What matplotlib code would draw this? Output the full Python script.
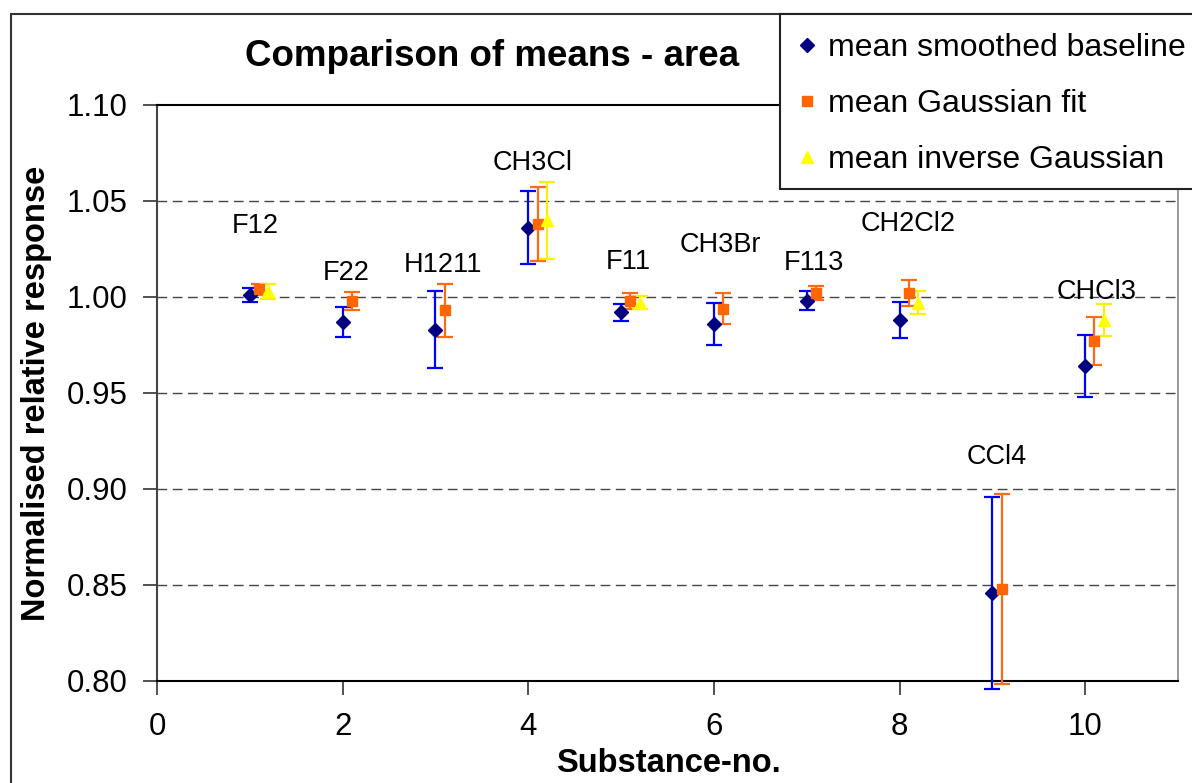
import numpy as np
import matplotlib
matplotlib.use("Agg")
import matplotlib.pyplot as plt
from matplotlib.patches import Rectangle
from matplotlib.lines import Line2D

plt.rcParams['font.family'] = ['Liberation Sans', 'DejaVu Sans']

# ---- data ----
substance_no = [1, 2, 3, 4, 5, 6, 7, 8, 9, 10]
substance_names = ["F12", "F22", "H1211", "CH3Cl", "F11", "CH3Br", "F113", "CH2Cl2", "CCl4", "CHCl3"]

mean_smoothed = [1.001, 0.987, 0.983, 1.036, 0.992, 0.986, 0.998, 0.988, 0.846, 0.964]
err_smoothed = [0.0035, 0.008, 0.020, 0.019, 0.0043, 0.011, 0.005, 0.0093, 0.050, 0.016]

mean_gauss = [1.004, 0.998, 0.993, 1.038, 0.998, 0.994, 1.002, 1.002, 0.848, 0.977]
err_gauss = [0.003, 0.0048, 0.014, 0.0195, 0.004, 0.008, 0.0035, 0.0066, 0.0495, 0.0125]

mean_invgauss = [1.003, np.nan, np.nan, 1.040, 0.997, np.nan, np.nan, 0.997, np.nan, 0.988]
err_invgauss = [0.004, np.nan, np.nan, 0.020, 0.0035, np.nan, np.nan, 0.006, np.nan, 0.0085]

series_labels = ["mean smoothed baseline", "mean Gaussian fit", "mean inverse Gaussian"]

# label placement (layout)
label_pos = [(1.06, 1.037), (2.04, 1.0127), (3.08, 1.0167), (4.05, 1.0696), (5.08, 1.0184),
             (6.07, 1.027), (7.08, 1.0175), (8.09, 1.038), (9.05, 0.9169), (10.12, 1.0028)]

W, H = 1192, 783
fig = plt.figure(figsize=(W / 100, H / 100), dpi=100)
ax = fig.add_axes([157 / W, 1 - 681 / H, (1178 - 157) / W, (681 - 105) / H])

x = np.array(substance_no, dtype=float)
offsets = [0.0, 0.1, 0.2]
styles = [
    dict(fmt='D', color='#000080', ecolor='#0000FF', ms=7.5),
    dict(fmt='s', color='#FF6600', ecolor='#FF6A13', ms=7),
    dict(fmt='^', color='#FFFF00', ecolor='#FFEE00', ms=8.5),
]
means = [mean_smoothed, mean_gauss, mean_invgauss]
errs = [err_smoothed, err_gauss, err_invgauss]
for m, e, off, st in zip(means, errs, offsets, styles):
    cont = ax.errorbar(x + off, m, yerr=e, fmt=st['fmt'], color=st['color'],
                       mec=st['color'], ms=st['ms'], ecolor=st['ecolor'],
                       elinewidth=1.6, capsize=5.5, capthick=1.6, zorder=3)
    cont.lines[0].set_clip_on(False)
    for c in cont.lines[1]:
        c.set_clip_on(False)
    for c in cont.lines[2]:
        c.set_clip_on(False)

for name, (lx, ly) in zip(substance_names, label_pos):
    ax.text(lx, ly, name, ha='center', va='center', fontsize=19.5, color='black', zorder=4)

ax.set_xlim(0, 11)
ax.set_ylim(0.80, 1.10)
ax.set_xticks([0, 2, 4, 6, 8, 10])
ax.set_yticks(np.arange(0.80, 1.1001, 0.05))
ax.yaxis.set_major_formatter(matplotlib.ticker.FormatStrFormatter('%.2f'))
ax.tick_params(axis='both', direction='out', length=10, width=1.2, labelsize=22.5, colors='#333333',
               labelcolor='black')
ax.tick_params(axis='y', pad=11)
ax.tick_params(axis='x', pad=12)

for yv in [0.85, 0.90, 0.95, 1.00, 1.05]:
    ax.axhline(yv, color='#444444', lw=1.0, dashes=(7, 4), zorder=1)

ax.spines['left'].set_color('#444444')
ax.spines['left'].set_linewidth(1.5)
ax.spines['bottom'].set_color('black')
ax.spines['bottom'].set_linewidth(1.5)
ax.spines['top'].set_color('black')
ax.spines['top'].set_linewidth(1.5)
ax.spines['right'].set_color('#888888')
ax.spines['right'].set_linewidth(1.2)

fig.text(492 / W, 1 - 57 / H, "Comparison of means - area", ha='center', va='center',
         fontsize=26.5, fontweight='bold')
fig.text(37 / W, 1 - 393 / H, "Normalised relative response", ha='center', va='center',
         rotation=90, fontsize=23.5, fontweight='bold')
fig.text(668 / W, 1 - 764 / H, "Substance-no.", ha='center', va='center',
         fontsize=23.5, fontweight='bold')

# outer chart frame
fig.patches.append(Rectangle((11 / W, -0.2), 1.5, 1 - 14 / H + 0.2, transform=fig.transFigure,
                             fill=False, edgecolor='#333333', lw=1.5, zorder=0.5))
# legend frame
fig.patches.append(Rectangle((780 / W, 1 - 189 / H), 0.6, (189 - 14) / H, transform=fig.transFigure,
                             facecolor='white', edgecolor='#222222', lw=1.5, zorder=4,
                             clip_on=False))

handles = [Line2D([], [], ls='none', marker=st['fmt'], color=st['color'], mec=st['color'],
                  ms=st['ms'] * 0.95) for st in styles]
leg = fig.legend(handles, series_labels, loc='upper left', bbox_to_anchor=(794 / W, 1 - 33 / H),
                 frameon=False, fontsize=23, handlelength=0.8, handletextpad=0.25,
                 labelspacing=0.82, borderpad=0, borderaxespad=0)
leg.set_zorder(6)

fig.savefig("out.png", dpi=100)
